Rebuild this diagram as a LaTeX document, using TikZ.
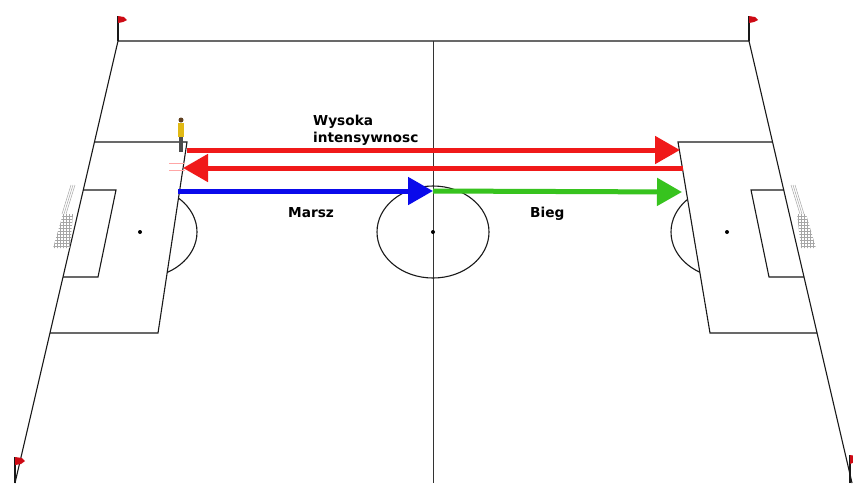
\documentclass[tikz,border=0pt]{standalone}
\usepackage{fontspec}
\newfontfamily\pitchfont{DejaVu Sans}
\usetikzlibrary{arrows.meta}
\definecolor{flagred}{RGB}{205,10,20}
\definecolor{runred}{RGB}{240,25,25}
\definecolor{runblue}{RGB}{10,10,235}
\definecolor{rungreen}{RGB}{55,195,30}
\definecolor{shirt}{RGB}{225,185,20}

\begin{document}
\begin{tikzpicture}[x=1pt,y=-1pt,
  pitch/.style={line width=1.1pt,black!90},
  run/.style={line width=5pt,-{Triangle[length=25pt,width=27pt]}},
  net/.style={gray!70,line width=0.5pt},
  lbl/.style={font=\pitchfont\bfseries\fontsize{13.7}{16.6}\selectfont,inner sep=0pt}]
\fill[white] (0,0) rectangle (853,483);
\useasboundingbox (0,0) rectangle (853,483);
% touchlines and goal line
\draw[pitch] (15,483) -- (118,41) -- (749,41) -- (852,483);
\draw[line width=0.8pt,black!80] (433,41) -- (433,483);
\draw[pitch] (433,232) ellipse [x radius=56pt,y radius=46pt];
\fill (433,232) circle (2pt);
% left end
\draw[pitch] (94,142) -- (187,142) -- (158,333) -- (50,333);
\draw[pitch] (83,190) -- (116,190) -- (98,277) -- (63,277);
\fill (140,232) circle (2pt);
\begin{scope}
\clip (187,142) -- (158,333) -- (300,333) -- (300,142) -- cycle;
\draw[pitch] (140,232) ellipse [x radius=57pt,y radius=46pt];
\end{scope}
% right end
\draw[pitch] (772,142) -- (678,142) -- (710,333) -- (817,333);
\draw[pitch] (784,190) -- (751,190) -- (769,277) -- (804,277);
\fill (727,232) circle (2pt);
\begin{scope}
\clip (678,142) -- (710,333) -- (600,333) -- (600,142) -- cycle;
\draw[pitch] (727,232) ellipse [x radius=56pt,y radius=46pt];
\end{scope}
% goal nets
\draw[net] (71,185) -- (62,214);
\draw[net] (73,185) -- (64,214);
\draw[net] (75,185) -- (66,214);
\begin{scope}
\clip (63,214) -- (73,214) -- (70,248) -- (53,248) -- cycle;
\draw[net,step=3pt] (50,250) grid (76,212);
\end{scope}
\draw[net] (791,185) -- (800,214);
\draw[net] (793,185) -- (802,214);
\draw[net] (795,185) -- (804,214);
\begin{scope}
\clip (797,214) -- (806,214) -- (816,248) -- (801,248) -- cycle;
\draw[net,step=3pt] (794,250) grid (820,212);
\end{scope}
% corner flags
\draw[pitch] (118,41) -- (118,16);
\fill[flagred] (118,16) -- (124,17) -- (127,20) -- (123,22) -- (118,23) -- cycle;
\draw[pitch] (749,41) -- (749,16);
\fill[flagred] (749,16) -- (755,17) -- (758,20) -- (754,22) -- (749,23) -- cycle;
\draw[pitch] (15,483) -- (15,457);
\fill[flagred] (15,457) -- (22,458) -- (25,461) -- (21,464) -- (15,465) -- cycle;
\draw[pitch] (850,483) -- (850,455);
\fill[flagred] (850,455) -- (856,456) -- (859,459) -- (855,462) -- (850,464) -- cycle;
% player
\fill[brown!50!black] (181,120) circle (2.5pt);
\fill[shirt] (178,123) rectangle (184,137);
\fill[black!70] (179,137) rectangle (183,152);
% runs
\coordinate (hi1) at (187,150);
\coordinate (hi2) at (680,150);
\coordinate (back1) at (683,168);
\coordinate (back2) at (183,168);
\coordinate (walk1) at (178,191);
\coordinate (half) at (433,191);
\coordinate (jog2) at (682,192);
\draw[red!35,line width=0.7pt] (169,163) -- (185,163);
\draw[red!35,line width=0.7pt] (169,170) -- (185,170);
\draw[run,runred] (hi1) -- (hi2);
\draw[run,runred] (back1) -- (back2);
\draw[run,rungreen] (half) -- (jog2);
\draw[run,runblue] (walk1) -- (half);
\node[lbl,align=left,anchor=north west] (fast) at (313,115) {Wysoka\\intensywnosc};
\node[lbl,anchor=base west] (walk) at (288,217) {Marsz};
\node[lbl,anchor=base west] (jog) at (530,217) {Bieg};
\end{tikzpicture}
\end{document}
